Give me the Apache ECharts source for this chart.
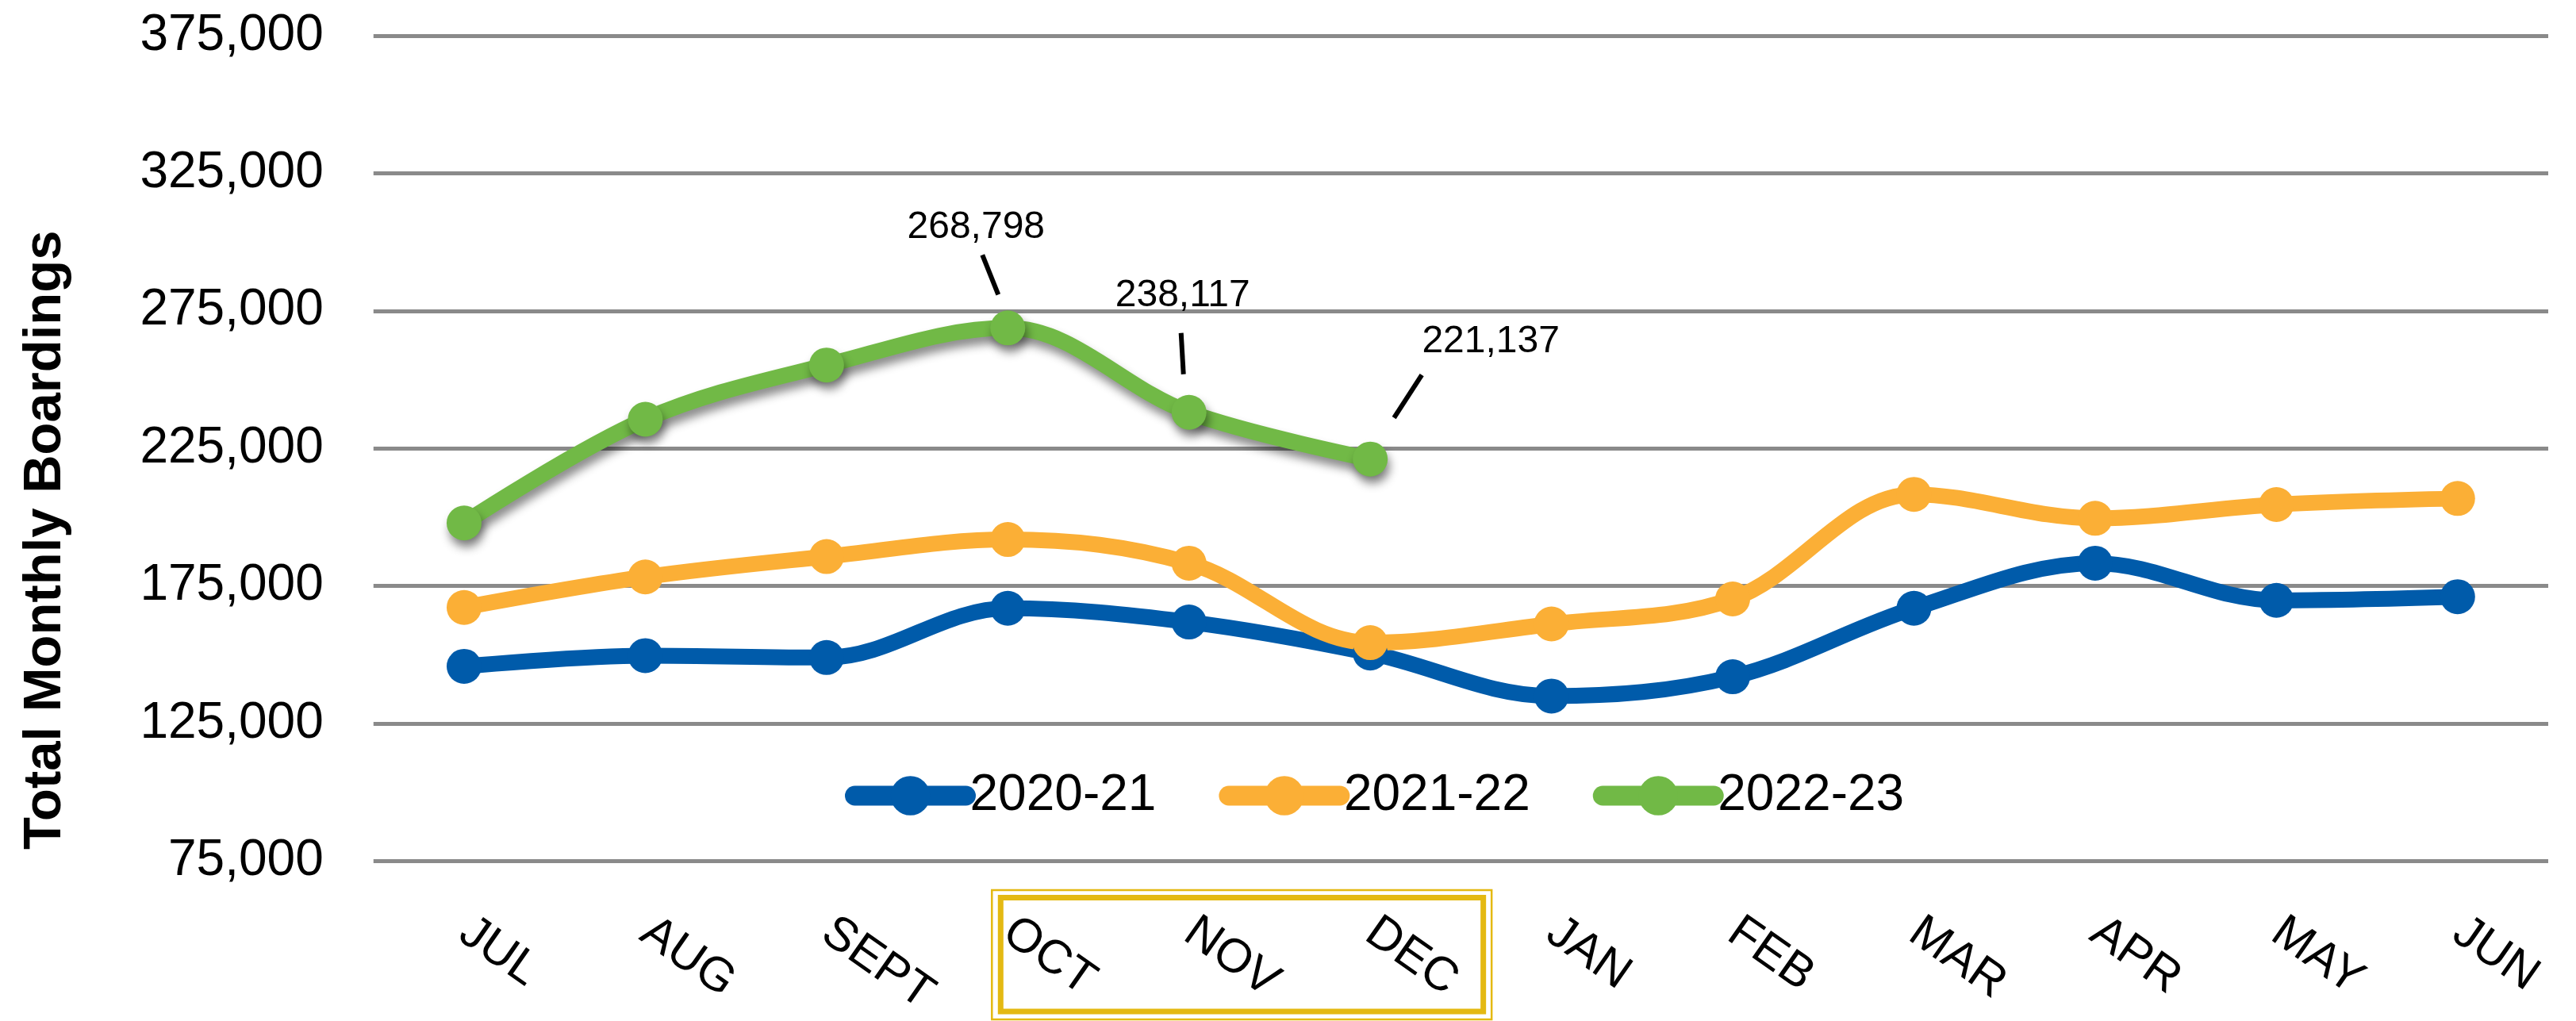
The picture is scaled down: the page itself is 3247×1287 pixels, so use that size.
<!DOCTYPE html>
<html><head><meta charset="utf-8">
<script src="https://cdn.jsdelivr.net/npm/echarts@6/dist/echarts.min.js"></script>
<style>html,body{margin:0;padding:0;background:#fff}#c{width:3247px;height:1287px}</style>
</head><body><div id="c"></div>
<script>
// ---- data ----
const months = ['JUL','AUG','SEPT','OCT','NOV','DEC','JAN','FEB','MAR','APR','MAY','JUN'];
const seriesNames = ['2020-21','2021-22','2022-23'];
const fy2021 = [145800,149700,149000,166900,161900,150600,135000,142000,166900,183300,169800,171100];
const fy2122 = [167200,178300,185700,191900,183300,154400,161200,170300,208300,199600,204600,206800];
const fy2223 = [197900,235600,255300,268798,238117,221137];
const yTicks = [75000,125000,175000,225000,275000,325000,375000];
const annotatedIdx = [3,4,5];
const highlightFrom = 'OCT', highlightTo = 'DEC';

// ---- styling ----
const FONT = '"Liberation Sans", Arial, sans-serif';
const COLORS = ['#005BAA','#FBAF36','#71B946'];
const ANN = {
  3: {line:[-32,-92,-12,-42], text:[-40,-127]},
  4: {line:[-10,-100,-7,-48], text:[-8,-147]},
  5: {line:[65,-106,30,-52], text:[152,-148]}
};
const fmt = v => Number(v).toLocaleString('en-US');

const chart = echarts.init(document.getElementById('c'), null, {renderer:'canvas'});
function lineSeries(name, data, color, shadow) {
  const sh = shadow ? {shadowColor:'rgba(0,0,0,0.45)', shadowBlur:12, shadowOffsetX:3, shadowOffsetY:9} : {};
  return {
    name, type:'line', data, smooth:0.35, symbol:'circle', symbolSize:44,
    lineStyle: Object.assign({color, width:20, cap:'round', join:'round'}, sh),
    itemStyle: Object.assign({color}, sh),
    emphasis:{disabled:true}, z: 2
  };
}
const option = {
  animation:false,
  backgroundColor:'#fff',
  grid:{left:470.75, right:35, top:45, bottom:201.5, containLabel:false, outerBoundsMode:'none'},
  legend:{
    data: seriesNames, left:1060, top:966, itemWidth:140, itemHeight:62, itemGap:79,
    textStyle:{fontSize:64, fontFamily:FONT, color:'#000'},
    lineStyle:{width:25, cap:'round', shadowBlur:0, shadowColor:'transparent'},
    itemStyle:{shadowBlur:0, shadowColor:'transparent'}
  },
  xAxis:{
    type:'category', data: months, boundaryGap:true,
    axisLine:{show:false}, axisTick:{show:false},
    axisLabel:{interval:0, rotate:-35, fontSize:60, fontFamily:FONT, color:'#000', margin:84, hideOverlap:false}
  },
  yAxis:{
    type:'value', min: yTicks[0], max: yTicks[yTicks.length-1], interval: yTicks[1]-yTicks[0],
    axisLine:{show:false}, axisTick:{show:false},
    axisLabel:{fontSize:64, fontFamily:FONT, color:'#000', margin:63, formatter: v => fmt(v)},
    splitLine:{show:true, lineStyle:{color:'#8A8A8A', width:5}},
    name:'Total Monthly Boardings', nameLocation:'middle', nameGap:380, nameMoveOverlap:false,
    nameTextStyle:{fontSize:67, fontWeight:'bold', fontFamily:FONT, color:'#000', padding:[0,231,0,0]}
  },
  series:[
    lineSeries(seriesNames[0], fy2021, COLORS[0], false),
    lineSeries(seriesNames[1], fy2122, COLORS[1], false),
    lineSeries(seriesNames[2], fy2223, COLORS[2], true),
    {
      type:'custom', silent:true, z:5,
      data: annotatedIdx.map(i => [i, fy2223[i]]),
      renderItem:(params, api) => {
        const i = api.value(0), v = api.value(1);
        const p = api.coord([i, v]);
        const o = ANN[i];
        return {type:'group', children:[
          {type:'line', shape:{x1:p[0]+o.line[0], y1:p[1]+o.line[1], x2:p[0]+o.line[2], y2:p[1]+o.line[3]},
           style:{stroke:'#000', lineWidth:6}},
          {type:'text', x:p[0]+o.text[0], y:p[1]+o.text[1],
           style:{text: fmt(v), fill:'#000', fontSize:48, fontFamily:FONT, align:'center', verticalAlign:'middle'}}
        ]};
      }
    }
  ]
};
chart.setOption(option);

// highlight box around the labelled months, positioned from the axis
const xa = chart.convertToPixel({xAxisIndex:0}, highlightFrom);
const xb = chart.convertToPixel({xAxisIndex:0}, highlightTo);
const ya = chart.convertToPixel({yAxisIndex:0}, yTicks[0]);
chart.setOption({graphic:[
  {type:'rect', shape:{x:xa-20, y:ya+36.5, width:(xb+153)-(xa-20), height:163}, style:{fill:'none', stroke:'#E4B912', lineWidth:2.5}, silent:true},
  {type:'rect', shape:{x:xa-9, y:ya+46, width:(xb+142.5)-(xa-9), height:143.5}, style:{fill:'none', stroke:'#E4B912', lineWidth:7}, silent:true}
]});
</script></body></html>
